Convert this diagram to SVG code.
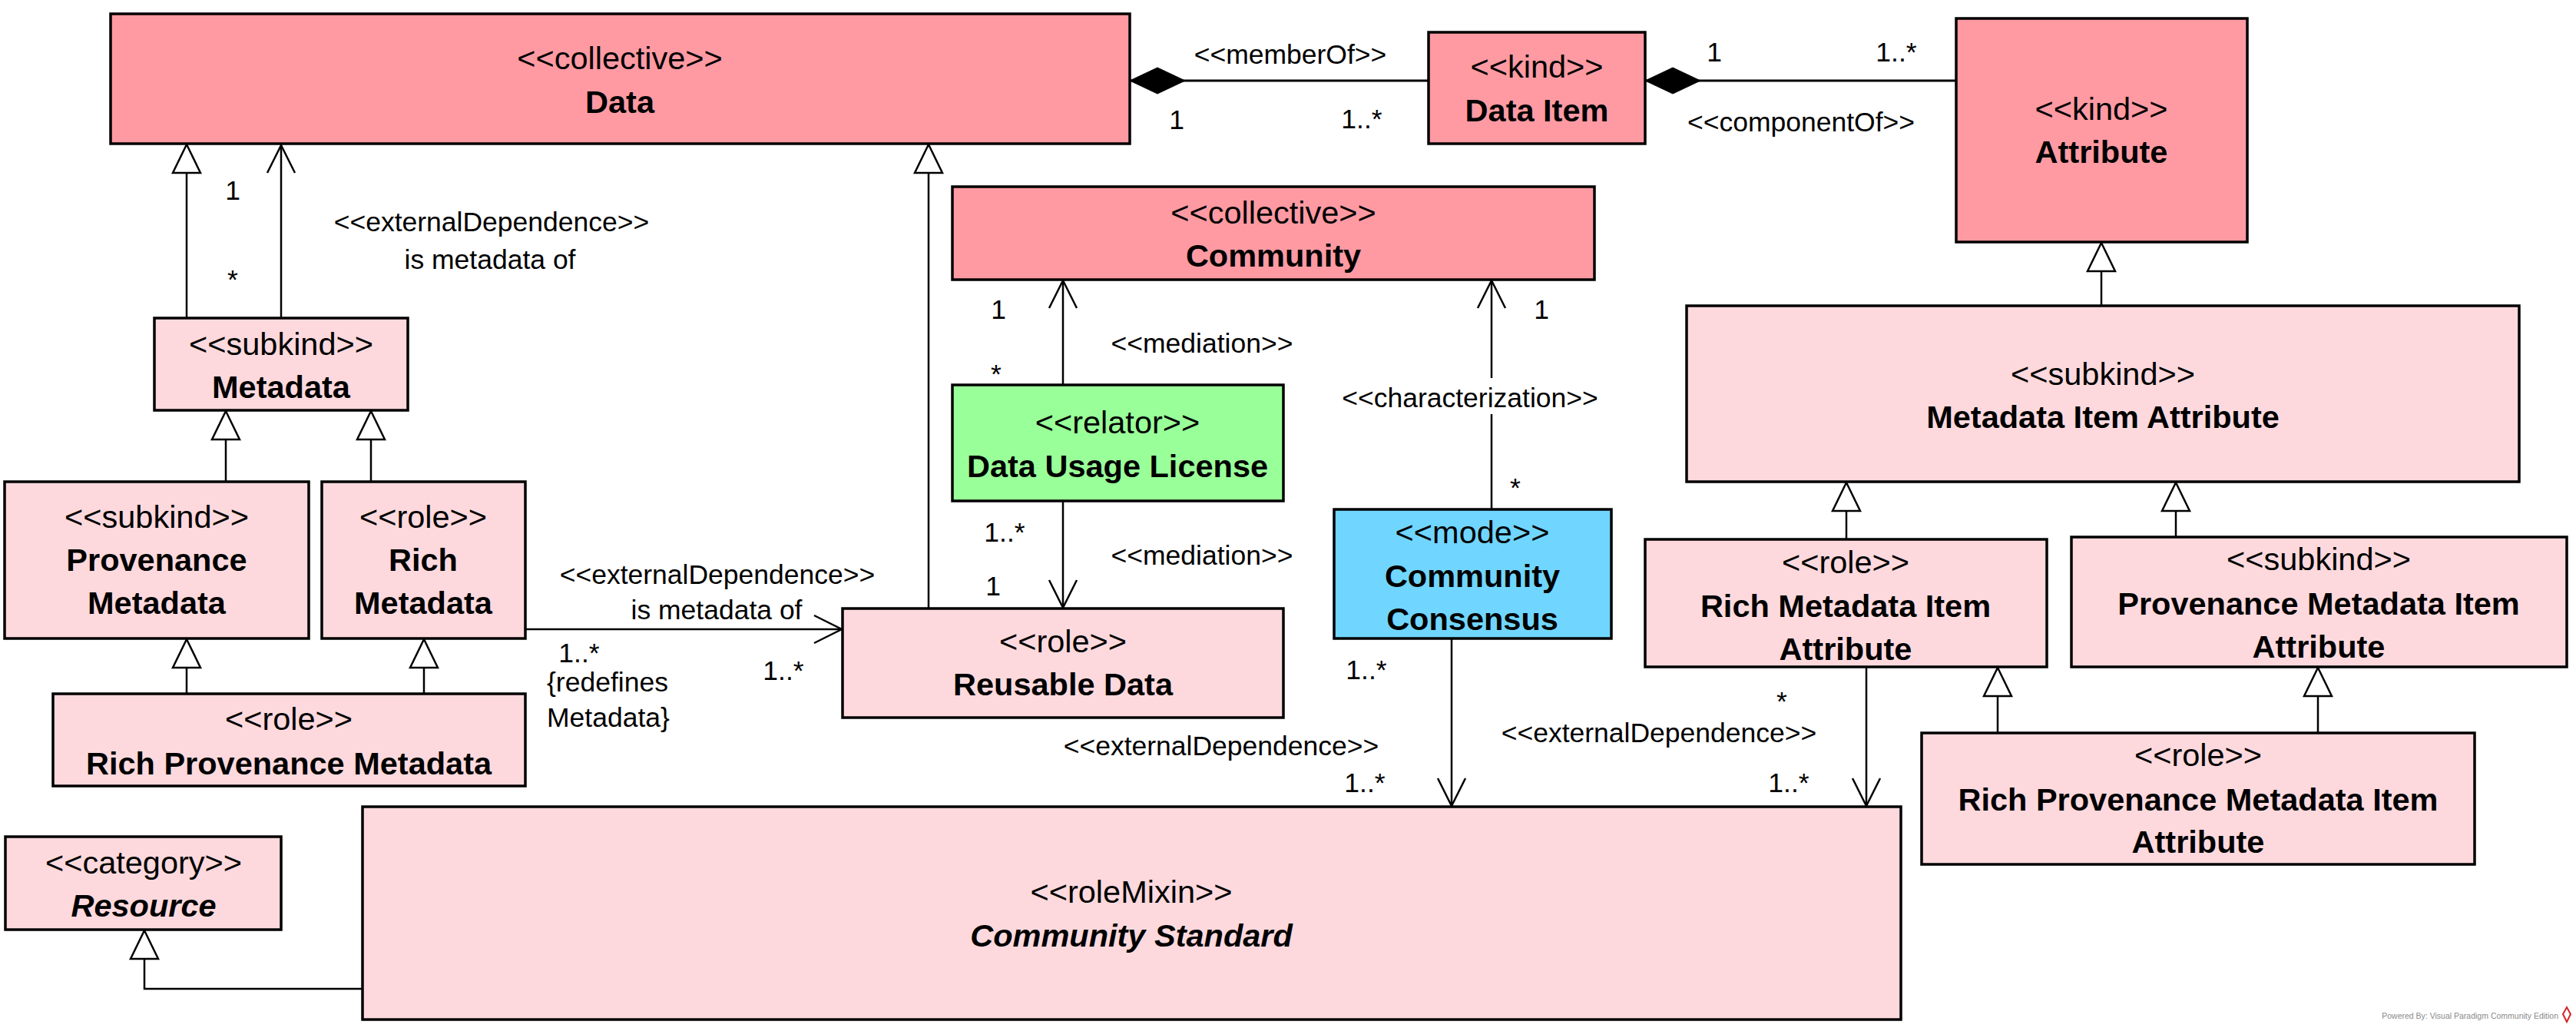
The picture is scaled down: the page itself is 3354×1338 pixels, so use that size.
<svg xmlns="http://www.w3.org/2000/svg" width="3354" height="1338" viewBox="0 0 3354 1338">
<style>
  .box { stroke: #000; stroke-width: 3.5; }
  .dark { fill: #FF9AA3; }
  .light { fill: #FDD9DD; }
  .green { fill: #99FF99; }
  .blue { fill: #70D6FF; }
  text { font-family: "Liberation Sans", Arial, sans-serif; fill: #000; }
  .st { font-size: 41.5px; text-anchor: middle; }
  .nm { font-size: 41.5px; font-weight: bold; text-anchor: middle; }
  .it { font-style: italic; }
  .lb { font-size: 35.5px; text-anchor: middle; }
  .ll { font-size: 35.5px; text-anchor: start; }
  .ln { fill: none; stroke: #000; stroke-width: 2.5; }
  .thick { stroke-width: 3.2; }
  .gen { marker-end: url(#gen); }
  .open { marker-end: url(#open); }
  .comp { marker-start: url(#diamond); }
  .wm { font-size: 10.5px; fill: #8a8a8a; text-anchor: end; }
</style>
<defs>
  <marker id="gen" markerUnits="userSpaceOnUse" viewBox="-40 -22 44 44" markerWidth="44" markerHeight="44" refX="0" refY="0" orient="auto" overflow="visible">
    <path d="M0,0 L-37,-18 L-37,18 Z" fill="#fff" stroke="#000" stroke-width="2.5" stroke-linejoin="miter"/>
  </marker>
  <marker id="open" markerUnits="userSpaceOnUse" viewBox="-40 -22 44 44" markerWidth="44" markerHeight="44" refX="0" refY="0" orient="auto" overflow="visible">
    <path d="M-36,-18 L0,0 L-36,18" fill="none" stroke="#000" stroke-width="2.5"/>
  </marker>
  <marker id="diamond" markerUnits="userSpaceOnUse" viewBox="-2 -20 76 40" markerWidth="76" markerHeight="40" refX="0" refY="0" orient="auto" overflow="visible">
    <path d="M0,0 L36,-17 L72,0 L36,17 Z" fill="#000" stroke="#000" stroke-width="1"/>
  </marker>
</defs>
<rect x="0" y="0" width="3354" height="1338" fill="#fff"/>

<g id="connectors">
  <!-- memberOf -->
  <path class="ln thick comp" d="M1471,105 L1860,105"/>
  <text class="lb" x="1680" y="83">&lt;&lt;memberOf&gt;&gt;</text>
  <text class="lb" x="1532" y="168">1</text>
  <text class="lb" x="1773" y="167">1..*</text>
  <!-- componentOf -->
  <path class="ln thick comp" d="M2142,105 L2547,105"/>
  <text class="lb" x="2232" y="80">1</text>
  <text class="lb" x="2469" y="80">1..*</text>
  <text class="lb" x="2345" y="171">&lt;&lt;componentOf&gt;&gt;</text>
  <!-- Metadata -> Data generalization -->
  <path class="ln gen" d="M243,414 L243,188"/>
  <!-- Metadata -> Data external dependence -->
  <path class="ln open" d="M366,414 L366,189"/>
  <text class="lb" x="303" y="260">1</text>
  <text class="lb" x="303" y="376">*</text>
  <text class="lb" x="640" y="301">&lt;&lt;externalDependence&gt;&gt;</text>
  <text class="lb" x="638" y="350">is metadata of</text>
  <!-- generalizations to Metadata -->
  <path class="ln gen" d="M294,627 L294,535"/>
  <path class="ln gen" d="M483,627 L483,535"/>
  <!-- generalizations from Rich Provenance Metadata -->
  <path class="ln gen" d="M243,903 L243,832"/>
  <path class="ln gen" d="M552,903 L552,832"/>
  <!-- Rich Metadata -> Reusable Data -->
  <path class="ln open" d="M684,819 L1096,819"/>
  <text class="lb" x="934" y="760">&lt;&lt;externalDependence&gt;&gt;</text>
  <text class="lb" x="933" y="806">is metadata of</text>
  <text class="lb" x="754" y="862">1..*</text>
  <text class="ll" x="712" y="900">{redefines</text>
  <text class="ll" x="712" y="946">Metadata}</text>
  <text class="lb" x="1020" y="885">1..*</text>
  <!-- Reusable Data -> Data generalization -->
  <path class="ln gen" d="M1209,792 L1209,188"/>
  <!-- mediation DUL -> Community -->
  <path class="ln open" d="M1384,501 L1384,365"/>
  <text class="lb" x="1300" y="415">1</text>
  <text class="lb" x="1297" y="499">*</text>
  <text class="lb" x="1565" y="459">&lt;&lt;mediation&gt;&gt;</text>
  <!-- mediation DUL -> Reusable Data -->
  <path class="ln open" d="M1384,652 L1384,791"/>
  <text class="lb" x="1308" y="705">1..*</text>
  <text class="lb" x="1293" y="775">1</text>
  <text class="lb" x="1565" y="735">&lt;&lt;mediation&gt;&gt;</text>
  <!-- characterization CC -> Community -->
  <path class="ln" d="M1942,663 L1942,539"/>
  <path class="ln open" d="M1942,492 L1942,365"/>
  <text class="lb" x="2007" y="415">1</text>
  <text class="lb" x="1914" y="530">&lt;&lt;characterization&gt;&gt;</text>
  <text class="lb" x="1973" y="647">*</text>
  <!-- CC -> Community Standard -->
  <path class="ln open" d="M1890,831 L1890,1049"/>
  <text class="lb" x="1779" y="884">1..*</text>
  <text class="lb" x="1590" y="983">&lt;&lt;externalDependence&gt;&gt;</text>
  <text class="lb" x="1777" y="1031">1..*</text>
  <!-- Community Standard -> Resource generalization -->
  <path class="ln gen" d="M472,1287 L188,1287 L188,1211"/>
  <!-- Metadata Item Attribute -> Attribute -->
  <path class="ln gen" d="M2736,398 L2736,316"/>
  <!-- generalizations to Metadata Item Attribute -->
  <path class="ln gen" d="M2404,702 L2404,628"/>
  <path class="ln gen" d="M2833,699 L2833,628"/>
  <!-- generalizations from Rich Provenance Metadata Item Attribute -->
  <path class="ln gen" d="M2601,954 L2601,869"/>
  <path class="ln gen" d="M3018,954 L3018,869"/>
  <!-- RMIA -> Community Standard -->
  <path class="ln open" d="M2430,868 L2430,1049"/>
  <text class="lb" x="2320" y="925">*</text>
  <text class="lb" x="2160" y="966">&lt;&lt;externalDependence&gt;&gt;</text>
  <text class="lb" x="2329" y="1031">1..*</text>
</g>

<g id="node-data">
  <rect class="box dark" x="144" y="18" width="1327" height="169"/>
  <text class="st" x="807" y="90">&lt;&lt;collective&gt;&gt;</text>
  <text class="nm" x="807" y="147">Data</text>
</g>
<g id="node-data-item">
  <rect class="box dark" x="1860" y="42" width="282" height="145"/>
  <text class="st" x="2001" y="101">&lt;&lt;kind&gt;&gt;</text>
  <text class="nm" x="2001" y="158">Data Item</text>
</g>
<g id="node-attribute">
  <rect class="box dark" x="2547" y="24" width="379" height="291"/>
  <text class="st" x="2736" y="156">&lt;&lt;kind&gt;&gt;</text>
  <text class="nm" x="2736" y="212">Attribute</text>
</g>
<g id="node-community">
  <rect class="box dark" x="1240" y="243" width="836" height="121"/>
  <text class="st" x="1658" y="291">&lt;&lt;collective&gt;&gt;</text>
  <text class="nm" x="1658" y="347">Community</text>
</g>
<g id="node-metadata">
  <rect class="box light" x="201" y="414" width="330" height="120"/>
  <text class="st" x="366" y="462">&lt;&lt;subkind&gt;&gt;</text>
  <text class="nm" x="366" y="518">Metadata</text>
</g>
<g id="node-provenance-metadata">
  <rect class="box light" x="6" y="627" width="396" height="204"/>
  <text class="st" x="204" y="687">&lt;&lt;subkind&gt;&gt;</text>
  <text class="nm" x="204" y="743">Provenance</text>
  <text class="nm" x="204" y="799">Metadata</text>
</g>
<g id="node-rich-metadata">
  <rect class="box light" x="419" y="627" width="265" height="204"/>
  <text class="st" x="551" y="687">&lt;&lt;role&gt;&gt;</text>
  <text class="nm" x="551" y="743">Rich</text>
  <text class="nm" x="551" y="799">Metadata</text>
</g>
<g id="node-rich-provenance-metadata">
  <rect class="box light" x="69" y="903" width="615" height="120"/>
  <text class="st" x="376" y="950">&lt;&lt;role&gt;&gt;</text>
  <text class="nm" x="376" y="1008">Rich Provenance Metadata</text>
</g>
<g id="node-reusable-data">
  <rect class="box light" x="1097" y="792" width="574" height="142"/>
  <text class="st" x="1384" y="849">&lt;&lt;role&gt;&gt;</text>
  <text class="nm" x="1384" y="905">Reusable Data</text>
</g>
<g id="node-data-usage-license">
  <rect class="box green" x="1240" y="501" width="431" height="151"/>
  <text class="st" x="1455" y="564">&lt;&lt;relator&gt;&gt;</text>
  <text class="nm" x="1455" y="621">Data Usage License</text>
</g>
<g id="node-community-consensus">
  <rect class="box blue" x="1737" y="663" width="361" height="168"/>
  <text class="st" x="1917" y="707">&lt;&lt;mode&gt;&gt;</text>
  <text class="nm" x="1917" y="764">Community</text>
  <text class="nm" x="1917" y="820">Consensus</text>
</g>
<g id="node-community-standard">
  <rect class="box light" x="472" y="1050" width="2003" height="277"/>
  <text class="st" x="1473" y="1175">&lt;&lt;roleMixin&gt;&gt;</text>
  <text class="nm it" x="1473" y="1232">Community Standard</text>
</g>
<g id="node-resource">
  <rect class="box light" x="7" y="1089" width="359" height="121"/>
  <text class="st" x="187" y="1137">&lt;&lt;category&gt;&gt;</text>
  <text class="nm it" x="187" y="1193">Resource</text>
</g>
<g id="node-metadata-item-attribute">
  <rect class="box light" x="2196" y="398" width="1084" height="229"/>
  <text class="st" x="2738" y="501">&lt;&lt;subkind&gt;&gt;</text>
  <text class="nm" x="2738" y="557">Metadata Item Attribute</text>
</g>
<g id="node-rich-metadata-item-attribute">
  <rect class="box light" x="2142" y="702" width="523" height="166"/>
  <text class="st" x="2403" y="746">&lt;&lt;role&gt;&gt;</text>
  <text class="nm" x="2403" y="803">Rich Metadata Item</text>
  <text class="nm" x="2403" y="859">Attribute</text>
</g>
<g id="node-provenance-metadata-item-attribute">
  <rect class="box light" x="2697" y="699" width="645" height="169"/>
  <text class="st" x="3019" y="742">&lt;&lt;subkind&gt;&gt;</text>
  <text class="nm" x="3019" y="800">Provenance Metadata Item</text>
  <text class="nm" x="3019" y="856">Attribute</text>
</g>
<g id="node-rich-provenance-metadata-item-attribute">
  <rect class="box light" x="2502" y="954" width="720" height="171"/>
  <text class="st" x="2862" y="997">&lt;&lt;role&gt;&gt;</text>
  <text class="nm" x="2862" y="1055">Rich Provenance Metadata Item</text>
  <text class="nm" x="2862" y="1110">Attribute</text>
</g>

<g id="watermark">
  <text class="wm" x="3331" y="1326">Powered By: Visual Paradigm Community Edition</text>
  <path d="M3342,1311 L3347,1320 L3342,1330 L3337,1320 Z" fill="none" stroke="#d2232a" stroke-width="2"/>
</g>
</svg>
